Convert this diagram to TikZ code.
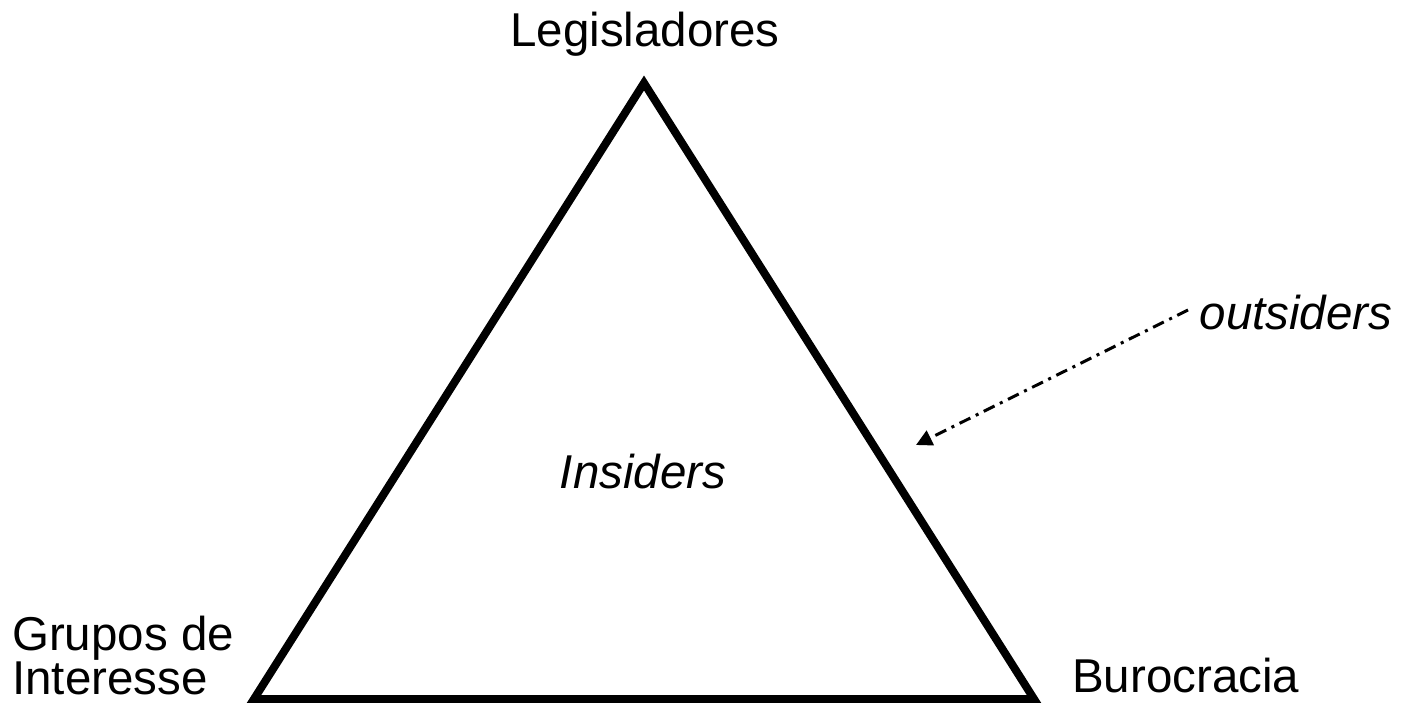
\documentclass[tikz,border=0pt]{standalone}
\usepackage{fontspec}
\setmainfont{Liberation Sans}
\usetikzlibrary{arrows.meta,positioning}

\tikzset{
  lbl/.style={inner sep=0pt, font=\fontsize{47.5}{56}\selectfont},
  tri/.style={line width=8pt, miter limit=10, line join=miter},
  outarrow/.style={line width=3pt, dash pattern=on 12pt off 6pt on 3pt off 6pt,
    -{Triangle[length=16pt,width=16pt]}}
}

\begin{document}
\begin{tikzpicture}[x=1pt,y=1pt]
  \useasboundingbox (0,0) rectangle (1408,702);
  % vertices
  \coordinate (leg) at (644,619);
  \coordinate (grp) at (254,3);
  \coordinate (bur) at (1034,3);
  \draw[tri] (grp) -- (leg) -- (bur) -- cycle;
  % labels
  \node[lbl, anchor=base] (legisladores) at (645,655) {Legisladores};
  \node[lbl, anchor=base west] (grupos) at (12,52) {Grupos de};
  \node[lbl, anchor=base west] (interesse) at (12,8) {Interesse};
  \node[lbl, anchor=base west] (burocracia) at (1072,10) {Burocracia};
  \node[lbl, anchor=base] (insiders) at (643,213) {\itshape Insiders};
  \node[lbl, anchor=base] (outsiders) at (1296,372) {\itshape outsiders};
  % outsiders pointing in
  \coordinate (outstart) at (1188,392);
  \coordinate (outend) at (916,257);
  \draw[outarrow] (outstart) -- (outend);
\end{tikzpicture}
\end{document}
